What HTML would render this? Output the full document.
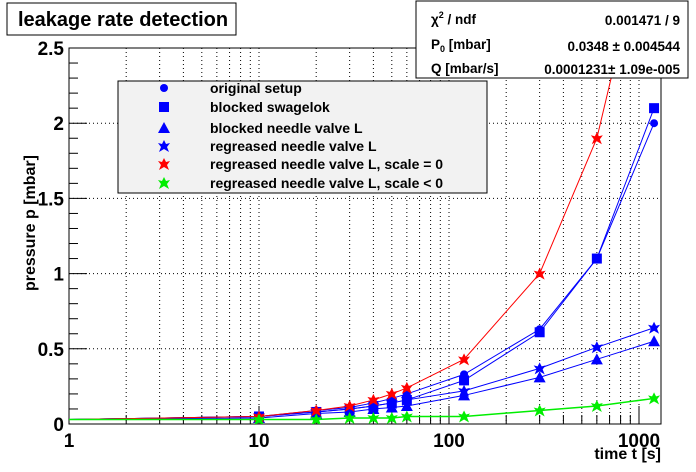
<!DOCTYPE html>
<html><head><meta charset="utf-8"><style>
body{margin:0;background:#fff}
svg{display:block;font-family:"Liberation Sans",Arial,sans-serif;font-weight:bold}
</style></head><body>
<svg id="s" width="696" height="472" xmlns="http://www.w3.org/2000/svg"></svg>
<script>
const L=69,R=661,T=48,B=424,D=190;
const X=t=>L+Math.log10(t)*D, Y=v=>B-v*(B-T)/2.5;
let h='<rect width="696" height="472" fill="#fff"/>';
for(let d=0;d<4;d++)for(let m=1;m<10;m++){let t=m*Math.pow(10,d);if(t<=1||X(t)>=R)continue;
 h+=`<line x1="${X(t)}" y1="${T}" x2="${X(t)}" y2="${B}" stroke="#000" stroke-width="1" stroke-dasharray="1,3"/>`;}
for(let v=0.5;v<2.6;v+=0.5)h+=`<line x1="${L}" y1="${Y(v)}" x2="${R}" y2="${Y(v)}" stroke="#000" stroke-dasharray="1,3"/>`;
for(let i=0;i<=25;i++){let y=Y(i/10),len=i%5==0?18:9;h+=`<line x1="${L}" y1="${y}" x2="${L+len}" y2="${y}" stroke="#000"/>`;}
for(let d=0;d<4;d++)for(let m=1;m<10;m++){let t=m*Math.pow(10,d);if(X(t)>R)continue;let len=m==1?18:9;
 h+=`<line x1="${X(t)}" y1="${B}" x2="${X(t)}" y2="${B-len}" stroke="#000"/>`;}
h+=`<rect x="${L}" y="${T}" width="${R-L}" height="${B-T}" fill="none" stroke="#000"/>`;
["0","0.5","1","1.5","2","2.5"].forEach((s,i)=>h+=`<text x="${L-5}" y="${Y(i*0.5)+7}" font-size="19" text-anchor="end">${s}</text>`);
[["1",1],["10",10],["100",100],["1000",1000]].forEach(a=>h+=`<text x="${X(a[1])}" y="${B+23}" font-size="19" text-anchor="middle">${a[0]}</text>`);
h+=`<text x="${R}" y="459" font-size="16" text-anchor="end">time t [s]</text>`;
h+=`<text transform="translate(35,155) rotate(-90)" font-size="16" text-anchor="end">pressure p [mbar]</text>`;
const ts=[10,20,30,40,50,60,120,300,600,1200];
const S=[
 ["#0000ff","c",[0.05,0.09,0.11,0.14,0.17,0.2,0.33,0.63,1.1,2.0]],
 ["#0000ff","s",[0.05,0.08,0.1,0.12,0.14,0.16,0.29,0.61,1.1,2.1]],
 ["#0000ff","t",[0.04,0.07,0.08,0.1,0.11,0.12,0.19,0.31,0.43,0.55]],
 ["#0000ff","x",[0.05,0.08,0.1,0.12,0.14,0.16,0.22,0.37,0.51,0.64]],
 ["#ff0000","x",[0.05,0.09,0.12,0.16,0.2,0.24,0.43,1.0,1.9,3.5]],
 ["#00ee00","x",[0.03,0.03,0.04,0.04,0.04,0.05,0.05,0.09,0.12,0.17]]];
function mk(c,k,x,y){
 if(k=="c")return `<circle cx="${x}" cy="${y}" r="4" fill="${c}"/>`;
 if(k=="s")return `<rect x="${x-5}" y="${y-5}" width="10" height="10" fill="${c}"/>`;
 if(k=="t")return `<polygon points="${x},${y-6} ${x+6},${y+5} ${x-6},${y+5}" fill="${c}"/>`;
 return `<polygon points="${x},${y-6} ${x+2},${y-2} ${x+6},${y-3} ${x+3},${y+1} ${x+5},${y+6} ${x},${y+3} ${x-5},${y+6} ${x-3},${y+1} ${x-6},${y-3} ${x-2},${y-2}" fill="${c}"/>`;
}
h+=`<clipPath id="cp"><rect x="${L}" y="${T}" width="${R-L}" height="${B-T}"/></clipPath><g clip-path="url(#cp)">`;
S.forEach(s=>{let pts=[[X(1),Y(0.03)]];ts.forEach((t,i)=>pts.push([X(t),Y(s[2][i])]));
 h+=`<polyline points="${pts.map(p=>p.join(',')).join(' ')}" fill="none" stroke="${s[0]}" stroke-width="${s[0]=="#00ee00"?1.5:1}"/>`;
 ts.forEach((t,i)=>h+=mk(s[0],s[1],X(t),Y(s[2][i])));});
h+='</g>';
h+=`<rect x="118" y="81" width="369" height="112" fill="#f2f2f2" stroke="#000"/>`;
const lab=["original setup","blocked swagelok","blocked needle valve L","regreased needle valve L","regreased needle valve L, scale = 0","regreased needle valve L, scale &lt; 0"];
const ry=[88,107,128,146,164,183];
S.forEach((s,i)=>{h+=mk(s[0],s[1],164,ry[i]);h+=`<text x="210" y="${ry[i]+5}" font-size="14">${lab[i]}</text>`;});
h+=`<rect x="7" y="3" width="229" height="32" fill="#fff" stroke="#000"/><text x="18" y="26" font-size="20">leakage rate detection</text>`;
h+=`<rect x="416" y="1" width="272" height="77" fill="#fff" stroke="#000"/>`;
h+=`<text x="431" y="24" font-size="13.5">χ<tspan font-size="9" dy="-6">2</tspan><tspan dy="6"> / ndf</tspan></text><text x="680" y="25" font-size="13.5" text-anchor="end">0.001471 / 9</text>`;
h+=`<text x="431" y="49" font-size="13.5">P<tspan font-size="9" dy="3">0</tspan><tspan dy="-3"> [mbar]</tspan></text><text x="680" y="51" font-size="13.5" text-anchor="end">0.0348 ± 0.004544</text>`;
h+=`<text x="431" y="73" font-size="13.5">Q [mbar/s]</text><text x="680" y="74" font-size="13.5" text-anchor="end">0.0001231± 1.09e-005</text>`;
document.getElementById('s').innerHTML=h;
</script>
</body></html>
